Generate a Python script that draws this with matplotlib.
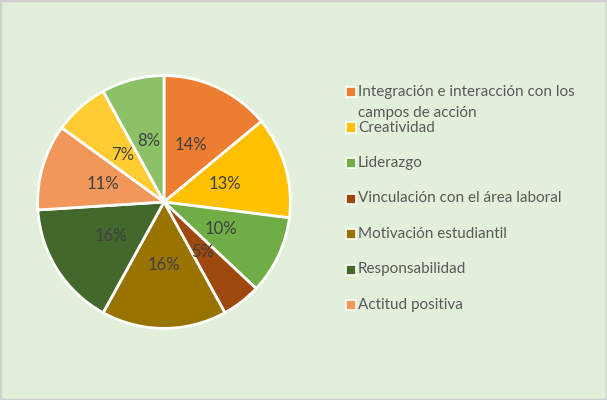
import matplotlib
matplotlib.use('Agg')
import matplotlib.pyplot as plt
from matplotlib.patches import Rectangle

# data (clockwise from 12 o'clock)
values = [14, 13, 10, 5, 16, 16, 11, 7, 8]
colors = ['#ED7D31', '#FFC000', '#70AD47', '#9E480E', '#997300',
          '#43682B', '#F1975A', '#FFCD33', '#8CC168']
legend_labels = ['Integración e interacción con los\ncampos de acción',
                 'Creatividad', 'Liderazgo', 'Vinculación con el área laboral',
                 'Motivación estudiantil', 'Responsabilidad', 'Actitud positiva']

plt.rcParams['font.family'] = ['Lato', 'DejaVu Sans']

W, H = 607, 400
fig = plt.figure(figsize=(W / 100, H / 100), dpi=100)
fig.patch.set_facecolor('#E2EFDA')

# outer border
fig.patches.append(Rectangle((0, 0), 1, 1, transform=fig.transFigure,
                             fill=False, edgecolor='#D0D0D0', linewidth=2.5))

# pie axes: centre (164, 202) px, radius 127 px
cx, cy, r = 164, 202, 127
ax = fig.add_axes([(cx - r) / W, (H - cy - r) / H, 2 * r / W, 2 * r / H])
wedges, texts, autotexts = ax.pie(
    values, colors=colors, startangle=90, counterclock=False,
    autopct='%1.0f%%', pctdistance=0.5,
    wedgeprops=dict(edgecolor='white', linewidth=2),
    textprops=dict(color='#404040', fontsize=12))
ax.set_xlim(-1.005, 1.005)
ax.set_ylim(-1.005, 1.005)
ax.set_aspect('equal')
ax.axis('off')

# legend drawn by hand so the wrapped entry overlaps like the original
y0, step = 92, 35.5
for i, lab in enumerate(legend_labels):
    y = y0 + i * step
    fig.patches.append(Rectangle((346 / W, 1 - (y + 5) / H), 10 / W, 10 / H,
                                 transform=fig.transFigure, facecolor=colors[i],
                                 edgecolor='white', linewidth=1.2))
    fig.text(358 / W, 1 - (y - 7) / H, lab, ha='left', va='top',
             fontsize=11, color='#595959', linespacing=1.6)

fig.savefig('out.png', dpi=100, facecolor=fig.get_facecolor())
